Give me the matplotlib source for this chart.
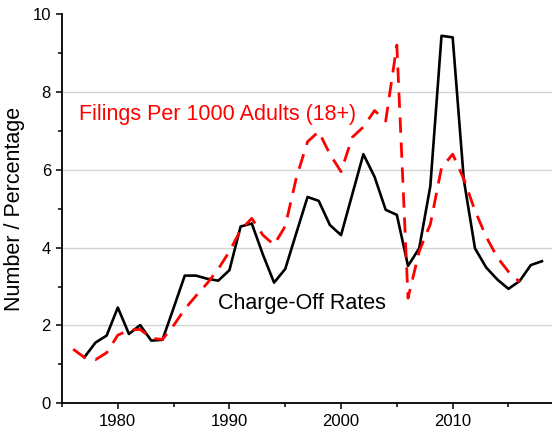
import numpy as np
import matplotlib
matplotlib.use("Agg")
import matplotlib.pyplot as plt
from matplotlib.ticker import MultipleLocator

plt.rcParams['font.family'] = ['Liberation Sans', 'DejaVu Sans']

# charge-off rates (black, solid)
charge_years = np.arange(1977, 2019)
charge_off = [1.18, 1.56, 1.74, 2.46, 1.78, 2.01, 1.61, 1.63, 2.45, 3.28,
              3.28, 3.20, 3.15, 3.42, 4.54, 4.62, 3.82, 3.10, 3.45, 4.38,
              5.30, 5.20, 4.58, 4.32, 5.36, 6.40, 5.82, 4.97, 4.84, 3.53,
              3.98, 5.58, 9.44, 9.40, 5.74, 3.98, 3.49, 3.18, 2.94, 3.14,
              3.55, 3.65]

# bankruptcy filings per 1000 adults (red, dashed)
filing_years = np.arange(1976, 2017)
filings = [1.39, 1.18, 1.12, 1.30, 1.75, 1.88, 1.90, 1.67, 1.64, 2.00,
           2.42, 2.76, 3.08, 3.45, 3.90, 4.45, 4.75, 4.32, 4.07, 4.55,
           5.80, 6.72, 6.98, 6.40, 5.95, 6.83, 7.10, 7.52, 7.25, 9.20,
           2.70, 3.90, 4.60, 6.05, 6.40, 5.76, 4.95, 4.28, 3.75, 3.38,
           3.12]

fig = plt.figure(figsize=(5.52, 4.33), dpi=100)
ax = fig.add_axes([62/552, 29.7/433, 490/552, 389.3/433])

ax.plot(charge_years, charge_off, color='black', lw=1.9, zorder=3)
ax.plot(filing_years, filings, color='#ff0000', lw=2.0,
        linestyle=(0, (5.5, 3.5)), zorder=4)

ax.text(1976.5, 7.28, 'Filings Per 1000 Adults (18+)', color='#ff0000',
        fontsize=15.5, va='baseline', ha='left')
ax.text(1989.0, 2.43, 'Charge-Off Rates', color='black',
        fontsize=15.5, va='baseline', ha='left')

ax.set_xlim(1975, 2018.9)
ax.set_ylim(0, 10)
ax.xaxis.set_major_locator(MultipleLocator(10))
ax.xaxis.set_minor_locator(MultipleLocator(5))
ax.yaxis.set_major_locator(MultipleLocator(2))
ax.yaxis.set_minor_locator(MultipleLocator(1))

for y in [2, 4, 6, 8]:
    ax.axhline(y, color='#d3d3d3', lw=1.0, zorder=1)

ax.spines['top'].set_visible(False)
ax.spines['right'].set_visible(False)
ax.spines['left'].set_linewidth(1.3)
ax.spines['bottom'].set_linewidth(1.3)
ax.tick_params(which='major', direction='out', length=4, width=1.1,
               labelsize=12, pad=4)
ax.tick_params(which='minor', direction='out', length=3, width=1.1)

ax.set_ylabel('Number / Percentage', fontsize=15.5)
ax.yaxis.set_label_coords(-0.076, 0.5)

fig.savefig('out.png', dpi=100)
